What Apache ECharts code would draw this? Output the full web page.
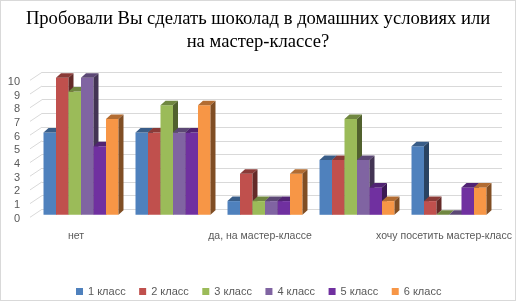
<!DOCTYPE html>
<html>
<head>
<meta charset="utf-8">
<script src="https://cdn.jsdelivr.net/npm/echarts@6/dist/echarts.min.js"></script>
<style>
  html, body { margin: 0; padding: 0; background: #fff; }
  #frame { position: relative; width: 516px; height: 301px; box-sizing: border-box; border: 1px solid #d9d9d9; }
  #main { position: absolute; left: -1px; top: -1px; width: 516px; height: 302px; }
</style>
</head>
<body>
<div id="frame"><div id="main"></div></div>
<script>
// категории ответов (2-я и 4-я подписи на оси не видны)
const categories = ['нет', 'да, в домашних условиях', 'да, на мастер-классе', 'нет, но хочу попробовать', 'хочу посетить мастер-класс'];
const classNames = ['1 класс', '2 класс', '3 класс', '4 класс', '5 класс', '6 класс'];
const class1 = [6, 6, 1, 4, 5];
const class2 = [10, 6, 3, 4, 1];
const class3 = [9, 8, 1, 7, 0];
const class4 = [10, 6, 1, 4, 0];
const class5 = [5, 6, 1, 2, 2];
const class6 = [7, 8, 3, 1, 2];
const yTicks = [0, 1, 2, 3, 4, 5, 6, 7, 8, 9, 10];

const seriesValues = [class1, class2, class3, class4, class5, class6];
const colors = ['#4F81BD', '#C0504D', '#9BBB59', '#8064A2', '#7030A0', '#F79646'];

function shade(hex, k) {
  const n = parseInt(hex.slice(1), 16);
  const r = Math.round(((n >> 16) & 255) * k);
  const g = Math.round(((n >> 8) & 255) * k);
  const b = Math.round((n & 255) * k);
  return 'rgb(' + r + ',' + g + ',' + b + ')';
}

const chart = echarts.init(document.getElementById('main'));

// псевдо-3D столбик: передняя грань, верх и боковая грань
function barRenderer(idx) {
  return function (params, api) {
    const top = api.coord([api.value(0), api.value(1)]);
    const base = api.coord([api.value(0), 0]);
    const band = api.size([1, 0])[0];
    const w = band * 0.815 / 6;
    const sx = -7, sy = 5.5, dx = 5, dy = 4.5;
    const x0 = top[0] - 3 * w + idx * w + sx;
    const yt = top[1] + sy;
    const yb = base[1] + sy;
    const c = colors[idx];
    return {
      type: 'group',
      children: [
        { type: 'rect', shape: { x: x0, y: yt, width: w, height: yb - yt }, style: { fill: c } },
        { type: 'polygon', shape: { points: [[x0, yt], [x0 + dx, yt - dy], [x0 + w + dx, yt - dy], [x0 + w, yt]] }, style: { fill: shade(c, 0.72) } },
        { type: 'polygon', shape: { points: [[x0 + w, yt], [x0 + w + dx, yt - dy], [x0 + w + dx, yb - dy], [x0 + w, yb]] }, style: { fill: shade(c, 0.52) } }
      ]
    };
  };
}

const series = [{
  type: 'custom',
  silent: true,
  data: yTicks.map(v => [0, v]),
  renderItem: function (params, api) {
    const p = api.coord([0, api.value(1)]);
    const x = params.coordSys.x;
    return { type: 'line', shape: { x1: x, y1: p[1], x2: x - 12, y2: p[1] + 8 }, style: { stroke: '#d9d9d9', lineWidth: 1 } };
  }
}];

seriesValues.forEach((vals, i) => {
  series.push({
    name: classNames[i],
    type: 'custom',
    itemStyle: { color: colors[i] },
    data: vals.map((v, j) => [j, v]),
    encode: { x: 0, y: 1 },
    renderItem: barRenderer(i)
  });
});

const option = {
  animation: false,
  title: {
    text: 'Пробовали Вы сделать шоколад в домашних условиях или\nна мастер-классе?',
    left: 'center',
    top: 3,
    textStyle: { fontFamily: 'Liberation Serif', fontSize: 18.6, fontWeight: 'normal', color: '#000', lineHeight: 23 }
  },
  legend: {
    data: classNames,
    left: 71,
    top: 281,
    icon: 'rect',
    itemWidth: 7,
    itemHeight: 7,
    itemGap: 13.5,
    textStyle: { fontFamily: 'Liberation Sans', fontSize: 11, color: '#595959' }
  },
  grid: { left: 42, right: 14, top: 72.3, bottom: 92.7 },
  xAxis: {
    type: 'category',
    data: categories,
    axisLine: { show: false },
    axisTick: { show: false },
    axisLabel: {
      interval: 1,
      margin: 21,
      padding: [0, 24, 0, 0],
      fontFamily: 'Liberation Sans',
      fontSize: 10.5,
      color: '#595959'
    }
  },
  yAxis: {
    type: 'value',
    min: 0,
    max: 10,
    interval: 1,
    axisLine: { show: false },
    axisTick: { show: false },
    splitLine: { lineStyle: { color: '#d9d9d9', width: 1 } },
    axisLabel: {
      margin: 22,
      verticalAlign: 'top',
      padding: [4, 0, 0, 0],
      fontFamily: 'Liberation Sans',
      fontSize: 11,
      color: '#595959'
    }
  },
  series: series
};

chart.setOption(option);
</script>
</body>
</html>
